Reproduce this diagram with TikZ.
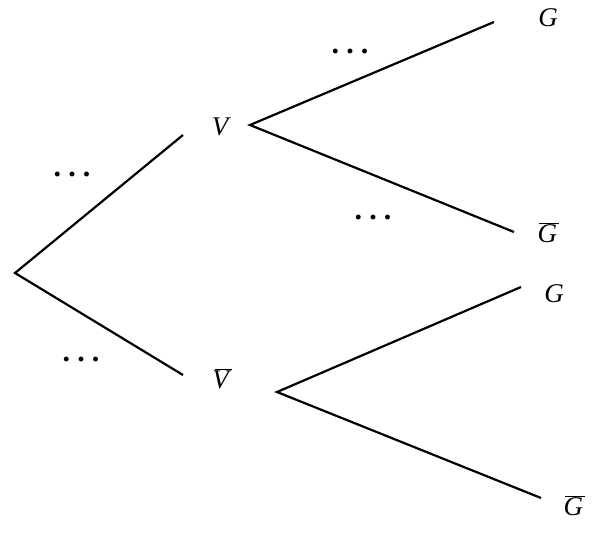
\documentclass[tikz,border=0pt]{standalone}
\usepackage{fontspec}
\setmainfont{Liberation Serif}
\usetikzlibrary{positioning}
\tikzset{
  branch/.style={line width=2.2pt, black, line join=miter},
  lbl/.style={font=\fontsize{27}{32}\selectfont\itshape, inner sep=0pt, anchor=base},
  dotlbl/.style={font=\fontsize{30}{34}\selectfont\bfseries, inner sep=0pt, anchor=base}
}
\newcommand{\treedots}{.\hspace{0.24em}.\hspace{0.24em}.}
\newcommand{\barred}[2][2pt]{\makebox[0pt][l]{\textit{#2}}\hspace{#1}$\overline{\phantom{\textit{#2}}}$}

\begin{document}
\begin{tikzpicture}[x=1pt, y=-1pt]
  \useasboundingbox (0,0) rectangle (604,532);

  % First level
  \coordinate (root) at (15,273);
  \coordinate (vin) at (183,135);
  \coordinate (nvin) at (183,375);
  \node[lbl] (v) at (220,135) {V};
  \node[lbl] (nv) at (222,388) {\barred[3pt]{V}};
  \draw[branch] (vin)--(root)--(nvin);
  \node[dotlbl] (d1) at (72,176) {\treedots};
  \node[dotlbl] (d2) at (81,361) {\treedots};

  % Branch after V
  \coordinate (vout) at (250,125);
  \coordinate (g1in) at (494,22);
  \coordinate (ng1in) at (514,232);
  \node[lbl] (g1) at (548,27) {G};
  \node[lbl] (ng1) at (548,242) {\barred[1.5pt]{G}};
  \draw[branch] (g1in)--(vout)--(ng1in);
  \node[dotlbl] (d3) at (350,54) {\treedots};
  \node[dotlbl] (d4) at (373,219) {\treedots};

  % Branch after not V
  \coordinate (nvout) at (277,392);
  \coordinate (g2in) at (521,287);
  \coordinate (ng2in) at (541,498);
  \node[lbl] (g2) at (554,302) {G};
  \node[lbl] (ng2) at (574,515) {\barred[1.5pt]{G}};
  \draw[branch] (g2in)--(nvout)--(ng2in);
\end{tikzpicture}
\end{document}
